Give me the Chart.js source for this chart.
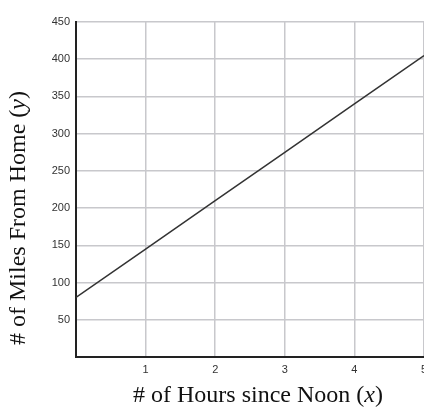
<!DOCTYPE html>
<html>
<head>
<meta charset="utf-8">
<script src="https://cdn.jsdelivr.net/npm/chart.js@4"></script>
<style>
  html, body { margin: 0; padding: 0; background: #fff; overflow: hidden; }
</style>
</head>
<body>
<canvas id="myChart" width="424" height="418"></canvas>
<script>
const hours = [0, 1, 2, 3, 4, 5];
const miles = [80, 145, 210, 275, 340, 405];
const xTickLabels = [1, 2, 3, 4, 5];
const yTickLabels = [50, 100, 150, 200, 250, 300, 350, 400, 450];
const xTitle = [['# of Hours since Noon (', false], ['x', true], [')', false]];
const yTitle = [['# of Miles From Home (', false], ['y', true], [')', false]];

const titleFont = '"Liberation Serif", "Times New Roman", serif';
const titleSize = 24;

function drawMixed(ctx, parts, cx, cy) {
    let total = 0;
    parts.forEach(p => {
        ctx.font = (p[1] ? 'italic ' : '') + titleSize + 'px ' + titleFont;
        total += ctx.measureText(p[0]).width;
    });
    let x = cx - total / 2;
    ctx.textBaseline = 'middle';
    ctx.textAlign = 'left';
    parts.forEach(p => {
        ctx.font = (p[1] ? 'italic ' : '') + titleSize + 'px ' + titleFont;
        ctx.fillText(p[0], x, cy);
        x += ctx.measureText(p[0]).width;
    });
}

const axisTitles = {
    id: 'axisTitles',
    afterDraw(chart) {
        const ctx = chart.ctx;
        ctx.save();
        ctx.fillStyle = '#111';
        drawMixed(ctx, xTitle, 258, 396);
        ctx.translate(19, 218);
        ctx.rotate(-Math.PI / 2);
        drawMixed(ctx, yTitle, 0, 0);
        ctx.restore();
    }
};

const tickFont = { family: '"Liberation Sans Narrow", "Liberation Sans", Arial, sans-serif', size: 11 };

const ctx = document.getElementById('myChart').getContext('2d');
const myChart = new Chart(ctx, {
    type: 'scatter',
    data: {
        datasets: [{
            data: hours.map((h, i) => ({ x: h, y: miles[i] })),
            showLine: true,
            borderColor: '#333',
            borderWidth: 1.5,
            pointRadius: 0,
            fill: false
        }]
    },
    options: {
        responsive: false,
        animation: false,
        layout: { padding: { top: 22, right: 0, left: 0, bottom: 0 } },
        plugins: {
            legend: { display: false },
            tooltip: { enabled: false }
        },
        scales: {
            x: {
                type: 'linear',
                min: 0,
                max: 5,
                ticks: {
                    stepSize: 1,
                    padding: 6,
                    color: '#333',
                    font: tickFont,
                    maxRotation: 0,
                    callback: v => xTickLabels.includes(v) ? String(v) : ''
                },
                grid: { color: '#c8c8cc', lineWidth: 1.5, drawTicks: false },
                border: { color: '#222', width: 2 },
                afterFit: s => { s.height = 61; s.paddingLeft = 0; s.paddingRight = 0; }
            },
            y: {
                min: 0,
                max: 450,
                ticks: {
                    stepSize: 50,
                    padding: 6,
                    color: '#333',
                    font: tickFont,
                    callback: v => yTickLabels.includes(v) ? String(v) : ''
                },
                grid: { color: '#c8c8cc', lineWidth: 1.5, drawTicks: false },
                border: { color: '#222', width: 2 },
                afterFit: s => { s.width = 76; s.paddingTop = 0; s.paddingBottom = 0; }
            }
        }
    },
    plugins: [axisTitles]
});
</script>
</body>
</html>
